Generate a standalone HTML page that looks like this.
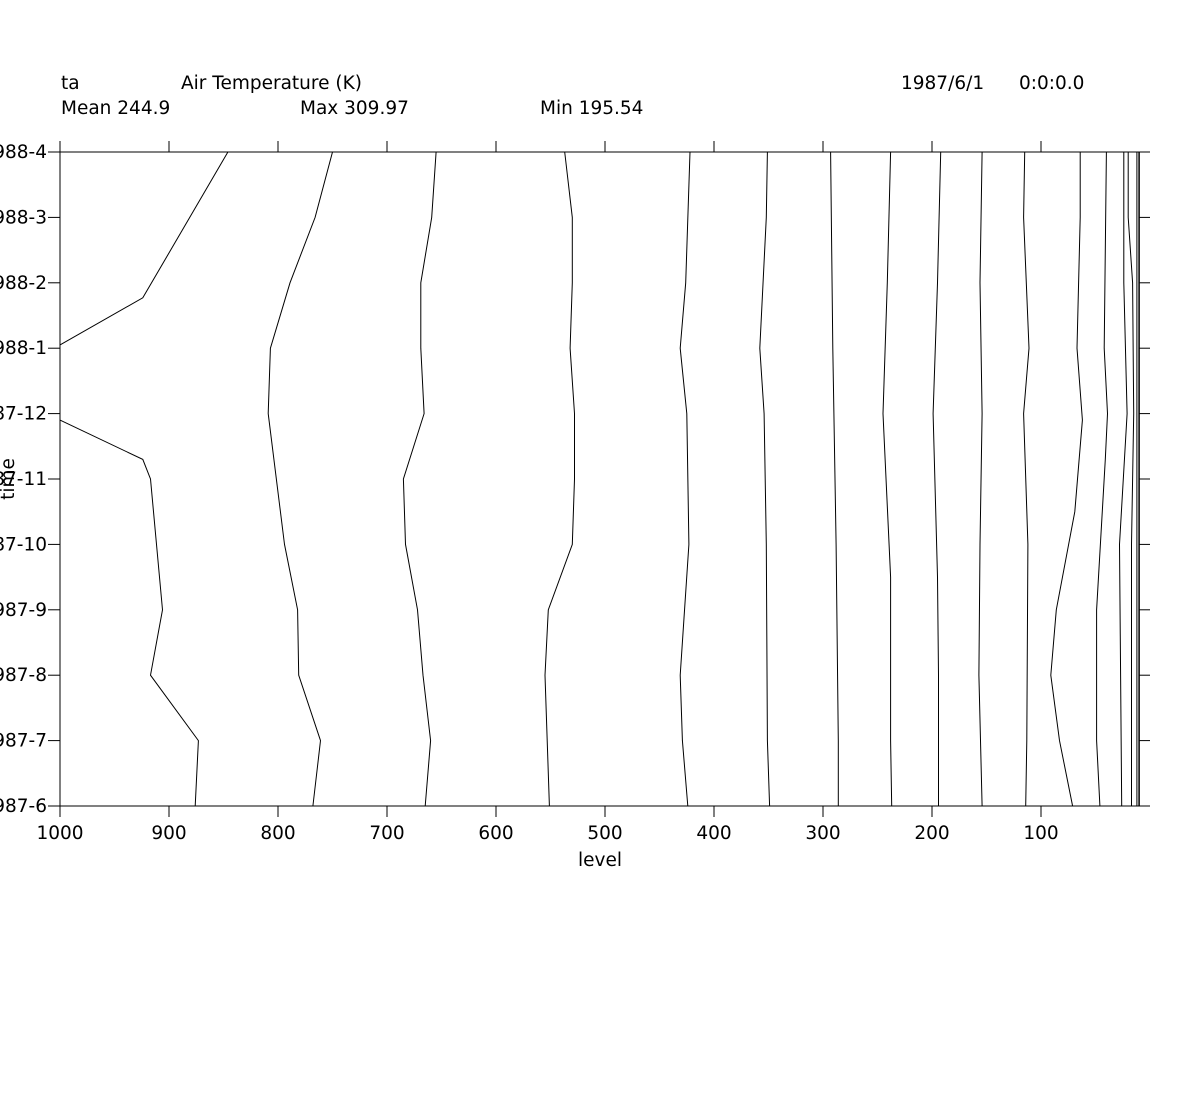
<!DOCTYPE html>
<html><head><meta charset="utf-8"><style>
html,body{margin:0;padding:0;background:#fff;}
svg text{font-family:"DejaVu Sans","Liberation Sans",sans-serif;font-size:18.5px;fill:#000;}
</style></head><body>
<svg id="chart" width="1200" height="1090" xmlns="http://www.w3.org/2000/svg">
<g>
<text x="61" y="89">ta</text>
<text x="181" y="89">Air Temperature (K)</text>
<text x="901" y="89">1987/6/1</text>
<text x="1019" y="89">0:0:0.0</text>
<text x="61" y="114">Mean 244.9</text>
<text x="300" y="114">Max 309.97</text>
<text x="540" y="114">Min 195.54</text>
</g>
<g id="axes"></g>
<g id="contours" fill="none" stroke="#000" stroke-width="1"></g>
</svg>
<script>
const xTicks=[1000,900,800,700,600,500,400,300,200,100];
const yTickLabels=["1987-6","1987-7","1987-8","1987-9","1987-10","1987-11","1987-12","1988-1","1988-2","1988-3","1988-4"];
// contour lines: levels (hPa) at month offsets from 1987-6
const c1aLev=[876,873,917,906,917,924,1000], c1aMon=[0,1,2,3,5,5.3,5.9];
const c1bLev=[1000,924,846], c1bMon=[7.05,7.77,10];
const c2Lev=[768,761,781,782,794,809,807,789,766,750], c2Mon=[0,1,2,3,4,6,7,8,9,10];
const c3Lev=[665,660,667,672,683,685,666,669,669,659,655], c3Mon=[0,1,2,3,4,5,6,7,8,9,10];
const c4Lev=[551,555,552,530,528,528,532,530,530,537], c4Mon=[0,2,3,4,5,6,7,8,9,10];
const c5Lev=[424,429,431,423,425,431,426,422], c5Mon=[0,1,2,4,6,7,8,10];
const c6Lev=[349,351,352,354,358,352,351], c6Mon=[0,1,4,6,7,9,10];
const c7Lev=[286,286,288,291,293], c7Mon=[0,1,4,7,10];
const c8Lev=[237,238,238,245,241,238], c8Mon=[0,1,3.5,6,8,10];
const c9Lev=[194,194,195,199,195,192], c9Mon=[0,2,3.5,6,8,10];
const c10Lev=[154,157,156,154,156,154], c10Mon=[0,2,4,6,8,10];
const c11Lev=[114,113,112,116,111,116,115], c11Mon=[0,1,4,6,7,9,10];
const c12Lev=[71,83,91,86,69,62,67,64,64], c12Mon=[0,1,2,3,4.5,5.9,7,9,10];
const c13Lev=[46,49,49,41,39,42,40], c13Mon=[0,1,3,5.3,6,7,10];
const c14Lev=[26,28,21,24,24], c14Mon=[0,4,6,8,10];
const c15Lev=[17,17,15,16,20,20], c15Mon=[0,4,6,8,9,10];
const c16Lev=[12,12], c16Mon=[0,10];
const contours=[[c1aLev,c1aMon],[c1bLev,c1bMon],[c2Lev,c2Mon],[c3Lev,c3Mon],[c4Lev,c4Mon],[c5Lev,c5Mon],[c6Lev,c6Mon],[c7Lev,c7Mon],[c8Lev,c8Mon],[c9Lev,c9Mon],[c10Lev,c10Mon],[c11Lev,c11Mon],[c12Lev,c12Mon],[c13Lev,c13Mon],[c14Lev,c14Mon],[c15Lev,c15Mon],[c16Lev,c16Mon]];

const NS="http://www.w3.org/2000/svg";
const X0=60,Y0=806,Y1=152;
function xs(l){return X0+(1000-l)*1.09;}
function ys(m){return Y0-(Y0-Y1)*m/10;}
const axes=document.getElementById('axes');
function line(x1,y1,x2,y2,w,name){const e=document.createElementNS(NS,'line');e.setAttribute('x1',x1);e.setAttribute('y1',y1);e.setAttribute('x2',x2);e.setAttribute('y2',y2);e.setAttribute('stroke','#000');e.setAttribute('stroke-width',w||1);


axes.appendChild(e);}
line(X0,Y1,1150,Y1,1,'top-axis');
line(X0,Y0,1150,Y0,1,'bottom-axis');
line(X0,Y1,X0,Y0,1,'left-axis');
line(xs(10),Y1,xs(10),Y0,1.5,'right-axis');
xTicks.forEach(v=>{const x=xs(v);line(x,Y1,x,Y1-11,1,'top-tick');line(x,Y0,x,Y0+11,1,'bottom-tick');
const t=document.createElementNS(NS,'text');t.setAttribute('x',x);t.setAttribute('y',839);t.setAttribute('text-anchor','middle');t.textContent=v;


axes.appendChild(t);});
yTickLabels.forEach((lab,i)=>{const y=ys(i);line(X0-12,y,X0,y,1,'left-tick');line(xs(10),y,1150,y,1,'right-tick');
const t=document.createElementNS(NS,'text');t.setAttribute('x',X0-13);t.setAttribute('y',y+6);t.setAttribute('text-anchor','end');t.textContent=lab;


axes.appendChild(t);});
const xt=document.createElementNS(NS,'text');xt.setAttribute('x',600);xt.setAttribute('y',866);xt.setAttribute('text-anchor','middle');xt.textContent='level';


axes.appendChild(xt);
const yt=document.createElementNS(NS,'text');yt.setAttribute('transform','translate(14,479) rotate(-90)');yt.setAttribute('text-anchor','middle');yt.textContent='time';


axes.appendChild(yt);
const cg=document.getElementById('contours');
contours.forEach((c,i)=>{const p=document.createElementNS(NS,'polyline');
p.setAttribute('points',c[0].map((l,j)=>xs(l).toFixed(1)+','+ys(c[1][j]).toFixed(1)).join(' '));


cg.appendChild(p);});
</script>
</body></html>
